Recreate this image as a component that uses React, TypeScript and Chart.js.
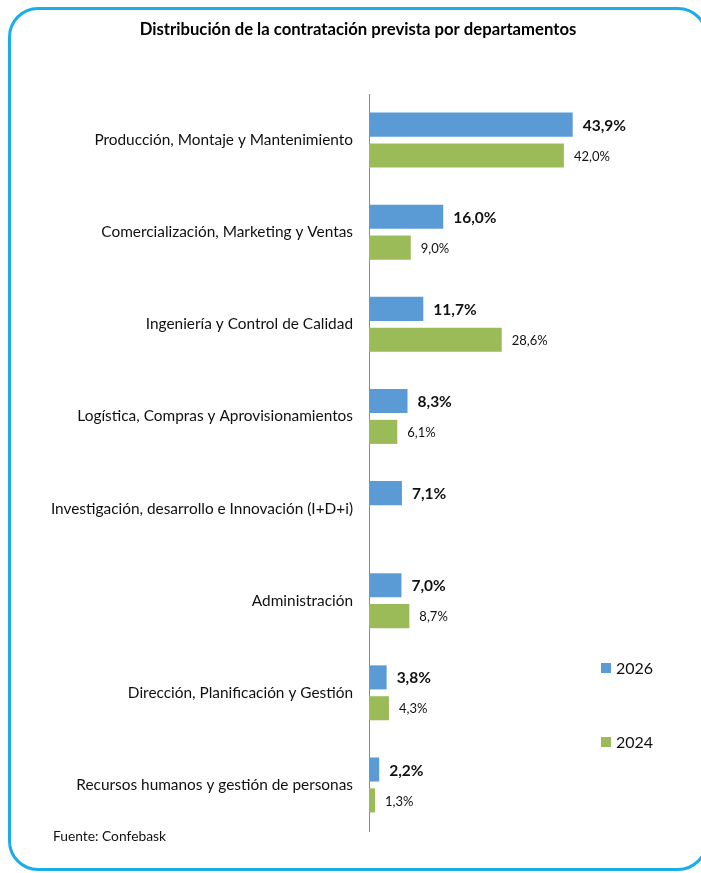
import React, { useEffect, useRef } from "react";
import { Chart, registerables } from "chart.js";
Chart.register(...registerables);

const categories = [
  "Producción, Montaje y Mantenimiento",
  "Comercialización, Marketing y Ventas",
  "Ingeniería y Control de Calidad",
  "Logística, Compras y Aprovisionamientos",
  "Investigación, desarrollo e Innovación (I+D+i)",
  "Administración",
  "Dirección, Planificación y Gestión",
  "Recursos humanos y gestión de personas",
];
const values2026 = [43.9, 16.0, 11.7, 8.3, 7.1, 7.0, 3.8, 2.2];
const values2024 = [42.0, 9.0, 28.6, 6.1, null, 8.7, 4.3, 1.3];
const seriesNames = ["2026", "2024"];
const title = "Distribución de la contratación prevista por departamentos";
const source = "Fuente: Confebask";

const BLUE = "#5B9BD5";
const GREEN = "#9BBB59";
const FONT = "Lato, 'Open Sans', sans-serif";

const fmt = (v: number) => v.toFixed(1).replace(".", ",") + "%";

const overlayPlugin = {
  id: "overlay",
  afterDatasetsDraw(chart: any) {
    const ctx = chart.ctx;
    ctx.save();
    ctx.textBaseline = "middle";
    ctx.textAlign = "left";
    chart.data.datasets.forEach((ds: any, di: number) => {
      const meta = chart.getDatasetMeta(di);
      meta.data.forEach((bar: any, i: number) => {
        const v = ds.data[i];
        if (v === null || v === undefined) return;
        ctx.fillStyle = "#111";
        ctx.font = di === 0 ? `bold 15.5px ${FONT}` : `13px ${FONT}`;
        ctx.fillText(fmt(v), bar.x + 10, bar.y + 1);
      });
    });
    // title
    ctx.textAlign = "center";
    ctx.font = `bold 16.7px ${FONT}`;
    ctx.fillStyle = "#000";
    ctx.fillText(title, 358, 30);
    // legend
    const legendY = [668, 742];
    const colors = [BLUE, GREEN];
    ctx.textAlign = "left";
    ctx.font = `16px ${FONT}`;
    seriesNames.forEach((n, k) => {
      ctx.fillStyle = colors[k];
      ctx.fillRect(601, legendY[k] - 5, 10, 10);
      ctx.fillStyle = "#111";
      ctx.fillText(n, 616, legendY[k] + 1);
    });
    // source
    ctx.font = `13.8px ${FONT}`;
    ctx.fillStyle = "#111";
    ctx.fillText(source, 53, 837);
    ctx.restore();
  },
};

export default function App() {
  const ref = useRef<HTMLCanvasElement>(null);
  useEffect(() => {
    if (!ref.current) return;
    const chart = new Chart(ref.current, {
      type: "bar",
      data: {
        labels: categories,
        datasets: [
          { label: seriesNames[0], data: values2026, backgroundColor: BLUE, categoryPercentage: 0.67, barPercentage: 0.78 },
          { label: seriesNames[1], data: values2024 as any, backgroundColor: GREEN, categoryPercentage: 0.67, barPercentage: 0.78 },
        ],
      },
      options: {
        indexAxis: "y",
        animation: false,
        responsive: false,
        layout: { padding: { top: 94, bottom: 42, right: 100, left: 0 } },
        plugins: { legend: { display: false }, title: { display: false }, tooltip: { enabled: false } },
        scales: {
          x: { display: false, min: 0, max: 50 },
          y: {
            grid: { display: false, drawTicks: false },
            border: { display: true, color: "#8a8a8a", width: 1 },
            ticks: { color: "#111", font: { family: FONT, size: 15.4 }, padding: 16 },
            afterFit: (s: any) => { s.width = 369; },
          },
        },
      },
      plugins: [overlayPlugin],
    });
    return () => chart.destroy();
  }, []);
  return (
    <div style={{ position: "absolute", left: 0, top: 0, width: 701, height: 873, background: "#fff", overflow: "hidden" }}>
      <div style={{ position: "absolute", left: 8, top: 7, width: 700, height: 864, border: "3px solid #1AAEE8", borderRadius: 30, boxSizing: "border-box" }} />
      <canvas ref={ref} width={701} height={873} style={{ position: "absolute", left: 0, top: 0 }} />
    </div>
  );
}
